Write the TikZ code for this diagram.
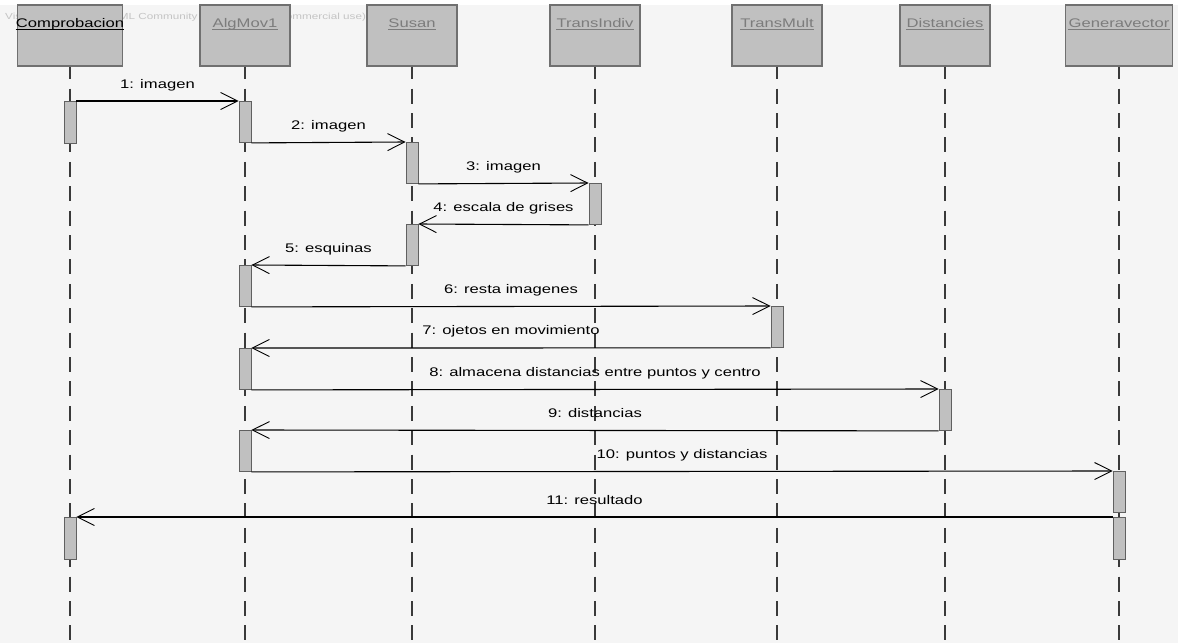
\documentclass[tikz,border=0pt]{standalone}
\usepackage{fontspec}
\setmainfont{Liberation Sans}[FakeStretch=1.33]
\usepackage{xcolor}
\usetikzlibrary{arrows.meta}

\definecolor{bgfill}{HTML}{F5F5F5}
\definecolor{boxfill}{HTML}{C0C0C0}
\definecolor{boxline}{HTML}{707070}
\definecolor{barline}{HTML}{606060}
\definecolor{titlegray}{HTML}{7C7C7C}
\definecolor{wmgray}{HTML}{C4C4C4}
\definecolor{lifegray}{HTML}{3A3A3A}

\begin{document}
\begin{tikzpicture}[x=1pt,y=-1pt,
    hdr/.style={draw=boxline, fill=boxfill, line width=1.2pt, minimum width=90pt, minimum height=61pt, inner sep=0pt},
    ttl/.style={anchor=base, inner sep=0pt, text=titlegray, font=\fontsize{12.5}{14}\selectfont},
    uline/.style={draw=titlegray, line width=0.8pt},
    act/.style={draw=barline, fill=boxfill, line width=0.9pt, minimum width=12pt, minimum height=41pt, anchor=north, inner sep=0pt},
    lifeline/.style={draw=lifegray, line width=1.5pt, dash pattern=on 15pt off 9.4pt, dash phase=2.4pt},
    msg/.style={line width=1.1pt, -{Straight Barb[length=17pt,width=17pt,line width=0.9pt]}},
    lbl/.style={anchor=base, yshift=13pt, inner sep=0pt, font=\fontsize{12.5}{14}\selectfont}]

    \useasboundingbox (0,0) rectangle (1178,643);
    \fill[white] (0,0) rectangle (1178,5);
    \fill[bgfill] (0,5) rectangle (1178,643);

    % watermark, half hidden by the header boxes
    \node[anchor=base west, inner sep=0pt, text=wmgray, font=\fontsize{8.8}{10}\selectfont] (wm) at (5,19)
        {Visual Paradigm for UML Community Edition (not for commercial use)};

    % header boxes
    \node[hdr, minimum width=105pt] (comp) at (70,35.5) {};
    \node[hdr] (alg) at (245,35.5) {};
    \node[hdr] (susan) at (412,35.5) {};
    \node[hdr] (tind) at (595,35.5) {};
    \node[hdr] (tmult) at (777,35.5) {};
    \node[hdr] (dist) at (945,35.5) {};
    \node[hdr, minimum width=107pt] (gvec) at (1119,35.5) {};

    \node[ttl, text=black] (tComp) at (70,27) {Comprobacion};
    \node[ttl] (tAlg) at (245,27) {AlgMov1};
    \node[ttl] (tSusan) at (412,27) {Susan};
    \node[ttl] (tTind) at (595,27) {TransIndiv};
    \node[ttl] (tTmult) at (777,27) {TransMult};
    \node[ttl] (tDist) at (945,27) {Distancies};
    \node[ttl] (tGvec) at (1119,27) {Generavector};
    \draw[uline, draw=black] ([yshift=-2.5pt]tComp.base west) -- ([yshift=-2.5pt]tComp.base east);
    \draw[uline] ([yshift=-2.5pt]tAlg.base west) -- ([yshift=-2.5pt]tAlg.base east);
    \draw[uline] ([yshift=-2.5pt]tSusan.base west) -- ([yshift=-2.5pt]tSusan.base east);
    \draw[uline] ([yshift=-2.5pt]tTind.base west) -- ([yshift=-2.5pt]tTind.base east);
    \draw[uline] ([yshift=-2.5pt]tTmult.base west) -- ([yshift=-2.5pt]tTmult.base east);
    \draw[uline] ([yshift=-2.5pt]tDist.base west) -- ([yshift=-2.5pt]tDist.base east);
    \draw[uline] ([yshift=-2.5pt]tGvec.base west) -- ([yshift=-2.5pt]tGvec.base east);

    % lifelines
    \coordinate (bottom) at (0,643);
    \draw[lifeline] (comp.south) -- (comp.south |- bottom);
    \draw[lifeline] (alg.south) -- (alg.south |- bottom);
    \draw[lifeline] (susan.south) -- (susan.south |- bottom);
    \draw[lifeline] (tind.south) -- (tind.south |- bottom);
    \draw[lifeline] (tmult.south) -- (tmult.south |- bottom);
    \draw[lifeline] (dist.south) -- (dist.south |- bottom);
    \draw[lifeline] (gvec.south) -- (gvec.south |- bottom);

    % activation bars
    \node[act, minimum height=42pt] (c1) at (70,101) {};
    \node[act] (a1) at (245,101) {};
    \node[act] (s1) at (412,142) {};
    \node[act] (ti1) at (595,183) {};
    \node[act] (s2) at (412,224) {};
    \node[act] (a2) at (245,265) {};
    \node[act] (tm1) at (777,306) {};
    \node[act] (a3) at (245,348) {};
    \node[act] (d1) at (945,389) {};
    \node[act] (a4) at (245,430) {};
    \node[act] (g1) at (1119,471) {};
    \node[act, minimum height=42pt] (c2) at (70,517) {};
    \node[act, minimum height=42pt] (g2) at (1119,517) {};

    % messages
    \draw[msg] (c1.north east) -- node[lbl] {1: imagen} (a1.north west);
    \draw[msg] (a1.south east) -- node[lbl] {2: imagen} (s1.north west);
    \draw[msg] (s1.south east) -- node[lbl] {3: imagen} (ti1.north west);
    \draw[msg] (ti1.south west) -- node[lbl] {4: escala de grises} (s2.north east);
    \draw[msg] (s2.south west) -- node[lbl] {5: esquinas} (a2.north east);
    \draw[msg] (a2.south east) -- node[lbl] {6: resta imagenes} (tm1.north west);
    \draw[msg] (tm1.south west) -- node[lbl] {7: ojetos en movimiento} (a3.north east);
    \draw[msg] (a3.south east) -- node[lbl] {8: almacena distancias entre puntos y centro} (d1.north west);
    \draw[msg] (d1.south west) -- node[lbl] {9: distancias} (a4.north east);
    \draw[msg] (a4.south east) -- node[lbl] {10: puntos y distancias} (g1.north west);
    \draw[msg] (g2.north west) -- node[lbl] {11: resultado} (c2.north east);
\end{tikzpicture}
\end{document}
